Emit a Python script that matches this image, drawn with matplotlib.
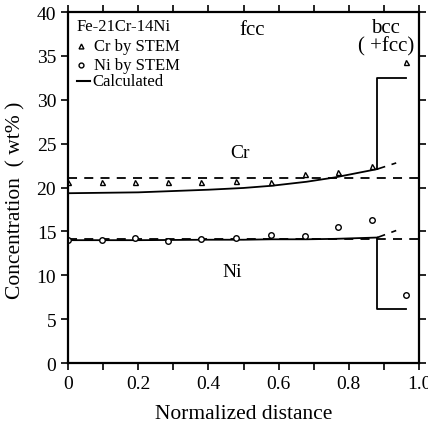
import numpy as np
import matplotlib.pyplot as plt

plt.rcParams['font.family'] = ['Liberation Serif', 'DejaVu Serif']

# STEM measurements
x_stem = [0.0, 0.097, 0.19, 0.285, 0.38, 0.479, 0.578, 0.675, 0.77, 0.866, 0.963]
cr_stem = [20.6, 20.66, 20.6, 20.66, 20.6, 20.7, 20.66, 21.5, 21.8, 22.5, 34.3]
ni_stem = [14.0, 14.0, 14.25, 13.9, 14.1, 14.3, 14.6, 14.5, 15.5, 16.3, 7.75]

# calculated profiles in the fcc region
x_calc = [0.0, 0.2, 0.4, 0.5, 0.58, 0.68, 0.76, 0.881]
cr_calc = [19.35, 19.45, 19.75, 19.95, 20.2, 20.66, 21.15, 22.1]
ni_calc = [14.0, 14.0, 14.05, 14.05, 14.1, 14.1, 14.15, 14.3]

# bcc step
x_int = 0.881
x_end = 0.964
cr_bcc = 32.5
ni_bcc = 6.2

# extension of the fcc curves past the interface
x_ext = [0.881, 0.935]
cr_ext = [22.1, 22.8]
ni_ext = [14.3, 15.1]

cr_bulk = 21.1
ni_bulk = 14.1

fig = plt.figure(figsize=(4.28, 4.27), dpi=100)
ax = fig.add_axes([0.159, 0.1475, 0.82, 0.822])

ax.axhline(cr_bulk, color='black', lw=1.3, ls=(0, (5, 4)))
ax.axhline(ni_bulk, color='black', lw=1.3, ls=(0, (5, 4)))

for yc, ye, yb in [(cr_calc, cr_ext, cr_bcc), (ni_calc, ni_ext, ni_bcc)]:
    ax.plot(x_calc, yc, color='black', lw=1.3)
    ax.plot(x_ext, ye, color='black', lw=1.2, ls=(0, (5, 4)))
    ax.plot([x_int, x_int, x_end], [yc[-1], yb, yb], color='black', lw=1.3)

ax.plot(x_stem, cr_stem, ls='none', marker='^', ms=3.6, mfc='white', mec='black', mew=1.0)
ax.plot(x_stem, ni_stem, ls='none', marker='o', ms=4, mfc='white', mec='black', mew=1.0)

ax.text(0.525, 38.0, 'fcc', fontsize=15, ha='center', va='center')
ax.text(0.905, 38.2, 'bcc', fontsize=15, ha='center', va='center')
ax.text(0.905, 36.1, '( +fcc)', fontsize=15, ha='center', va='center')
ax.text(0.49, 24.0, 'Cr', fontsize=14, ha='center', va='center')
ax.text(0.467, 10.4, 'Ni', fontsize=14, ha='center', va='center')

# legend block
ax.text(0.025, 38.4, 'Fe-21Cr-14Ni', fontsize=12, va='center')
ax.plot([0.038], [36.1], marker='^', ms=3.5, mfc='white', mec='black', mew=1.0)
ax.text(0.075, 36.1, 'Cr by STEM', fontsize=12, va='center')
ax.plot([0.038], [34.0], marker='o', ms=3.5, mfc='white', mec='black', mew=1.0)
ax.text(0.075, 34.0, 'Ni by STEM', fontsize=12, va='center')
ax.plot([0.025, 0.062], [32.1, 32.1], color='black', lw=1.5)
ax.text(0.07, 32.1, 'Calculated', fontsize=12, va='center')

ax.set_xlim(0, 1.0)
ax.set_ylim(0, 40)
ax.set_xticks(np.arange(0, 1.01, 0.2))
ax.set_xticklabels(['0', '0.2', '0.4', '0.6', '0.8', '1.0'])
ax.set_xticks(np.arange(0.1, 1.0, 0.2), minor=True)
ax.set_yticks(np.arange(0, 41, 5))
ax.tick_params(which='both', direction='out', top=True, right=True,
               length=5, width=1.2, labelsize=14)
for s in ax.spines.values():
    s.set_linewidth(1.6)

ax.set_xlabel('Normalized distance', fontsize=15.5, labelpad=9)
ax.set_ylabel('Concentration  ( wt% )', fontsize=15.5)
ax.yaxis.set_label_coords(-0.122, 0.467)

fig.savefig('out.png', dpi=100)
